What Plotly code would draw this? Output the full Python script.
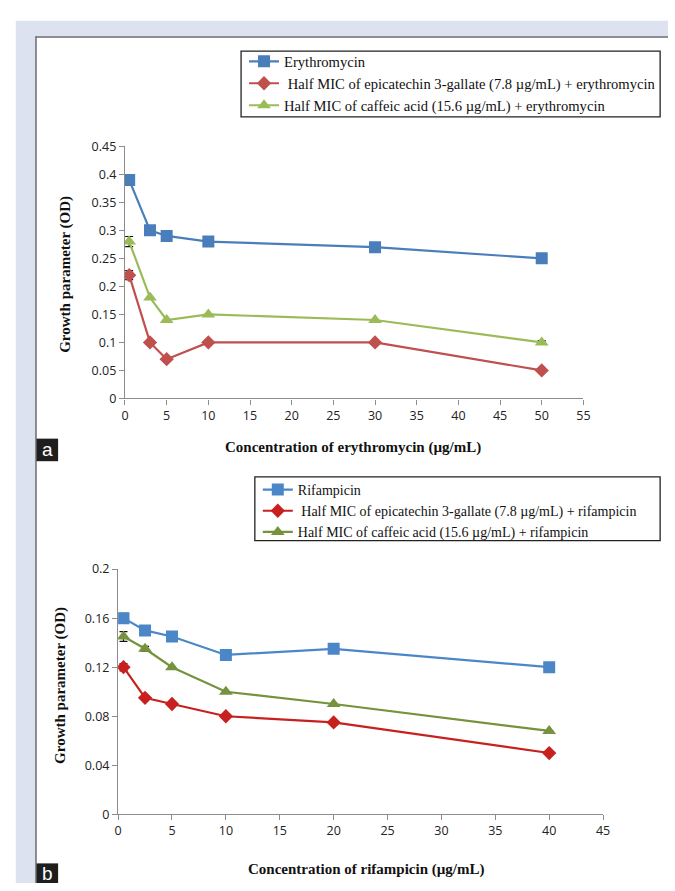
import plotly.graph_objects as go

W, H = 675, 891

# ---------------- data: panel a (erythromycin) ----------------
conc_a = [0.5, 3, 5, 10, 30, 50]
ery = [0.39, 0.30, 0.29, 0.28, 0.27, 0.25]
ery_ecg = [0.22, 0.10, 0.07, 0.10, 0.10, 0.05]
ery_caf = [0.28, 0.18, 0.14, 0.15, 0.14, 0.10]
err_ery = [0.004, None, None, None, None, None]
err_ery_ecg = [0.008, None, None, None, None, None]
err_ery_caf = [0.009, None, None, None, None, 0.003]

# ---------------- data: panel b (rifampicin) ----------------
conc_b = [0.5, 2.5, 5, 10, 20, 40]
rif = [0.16, 0.15, 0.145, 0.13, 0.135, 0.12]
rif_ecg = [0.12, 0.095, 0.09, 0.08, 0.075, 0.05]
rif_caf = [0.145, 0.135, 0.12, 0.10, 0.09, 0.068]
err_rif = [0.004, None, None, None, None, None]
err_rif_ecg = [0.003, None, None, None, None, None]
err_rif_caf = [0.004, 0.002, None, None, None, None]

names_a = ["Erythromycin",
           " Half MIC of epicatechin 3-gallate (7.8 µg/mL) + erythromycin",
           "Half MIC of caffeic acid (15.6 µg/mL) + erythromycin"]
names_b = ["Rifampicin",
           " Half MIC of epicatechin 3-gallate (7.8 µg/mL) + rifampicin",
           "Half MIC of caffeic acid (15.6 µg/mL) + rifampicin"]

xtitle_a = "Concentration of erythromycin (µg/mL)"
xtitle_b = "Concentration of rifampicin (µg/mL)"
ytitle = "Growth parameter (OD)"


def px(x):
    return x / W


def py(y):
    return 1 - y / H


fig = go.Figure()

colors_a = ["#4a7ebb", "#c0504d", "#9bbb59"]
colors_b = ["#4a86c8", "#c8201e", "#76923c"]
symbols = ["square", "diamond", "triangle-up"]
sizes = [12, 11, 12]

for i, (yv, ev) in enumerate([(ery, err_ery), (ery_ecg, err_ery_ecg), (ery_caf, err_ery_caf)]):
    fig.add_trace(go.Scatter(
        x=conc_a, y=yv, name=names_a[i], mode="lines+markers",
        line=dict(color=colors_a[i], width=2.2),
        marker=dict(symbol=symbols[i], size=sizes[i], color=colors_a[i]),
        error_y=dict(type="data", array=ev, visible=True, color="#111", thickness=1.2, width=4),
        xaxis="x", yaxis="y", legend="legend", legendgroup="a%d" % i,
    ))

for i, (yv, ev) in enumerate([(rif, err_rif), (rif_ecg, err_rif_ecg), (rif_caf, err_rif_caf)]):
    fig.add_trace(go.Scatter(
        x=conc_b, y=yv, name=names_b[i], mode="lines+markers",
        line=dict(color=colors_b[i], width=2.2),
        marker=dict(symbol=symbols[i], size=sizes[i], color=colors_b[i]),
        error_y=dict(type="data", array=ev, visible=True, color="#111", thickness=1.2, width=4),
        xaxis="x2", yaxis="y2", legend="legend2", legendgroup="b%d" % i,
    ))

tickfont = dict(family="Open Sans", size=12.5, color="#222")
axis_common = dict(showline=True, linecolor="#8c8c8c", linewidth=1.3, ticks="outside",
                   ticklen=5, tickcolor="#8c8c8c", tickwidth=1.3, showgrid=False,
                   zeroline=False, tickfont=tickfont, fixedrange=True)

legend_common = dict(bgcolor="rgba(0,0,0,0)", borderwidth=0, itemwidth=30,
                     traceorder="grouped", xanchor="left", yanchor="top")

fig.update_layout(
    width=W, height=H,
    margin=dict(l=0, r=0, t=0, b=0),
    paper_bgcolor="white", plot_bgcolor="white",
    xaxis=dict(domain=[px(123), px(589)], range=[0, 55], dtick=5, tick0=0,
               anchor="y", **axis_common),
    yaxis=dict(domain=[py(397), py(140)], range=[0, 0.45], dtick=0.05, tick0=0,
               anchor="x", **axis_common),
    xaxis2=dict(domain=[px(116), px(609)], range=[0, 45], dtick=5, tick0=0,
                anchor="y2", **axis_common),
    yaxis2=dict(domain=[py(821), py(571)], range=[0, 0.2], dtick=0.04, tick0=0,
                anchor="x2", **axis_common),
    legend=dict(x=px(244), y=py(37), tracegroupgap=0,
                font=dict(family="Liberation Serif", size=14.6, color="#111"), **legend_common),
    legend2=dict(x=px(258), y=py(474), tracegroupgap=0,
                 font=dict(family="Liberation Serif", size=14, color="#111"), **legend_common),
    showlegend=True,
)

shapes = [
    # lavender frame
    dict(type="rect", xref="paper", yref="paper", x0=px(12), x1=px(675), y0=py(891), y1=py(12),
         fillcolor="#dde2f0", line=dict(width=0), layer="below"),
    # white panel
    dict(type="rect", xref="paper", yref="paper", x0=px(32), x1=px(676), y0=py(892), y1=py(28),
         fillcolor="white", line=dict(width=0), layer="below"),
    dict(type="line", xref="paper", yref="paper", x0=px(32.5), x1=px(32.5), y0=py(891), y1=py(28),
         line=dict(color="#6a6a6a", width=1.5)),
    dict(type="line", xref="paper", yref="paper", x0=px(32), x1=px(675), y0=py(28.5), y1=py(28.5),
         line=dict(color="#6a6a6a", width=1.5)),
    # legend boxes
    dict(type="rect", xref="paper", yref="paper", x0=px(241), x1=px(667), y0=py(110), y1=py(43),
         line=dict(color="#222", width=1.3), fillcolor="rgba(0,0,0,0)"),
    dict(type="rect", xref="paper", yref="paper", x0=px(255), x1=px(667), y0=py(542), y1=py(477),
         line=dict(color="#222", width=1.3), fillcolor="rgba(0,0,0,0)"),
    # panel label boxes
    dict(type="rect", xref="paper", yref="paper", x0=px(33), x1=px(55), y0=py(461), y1=py(438),
         fillcolor="#1e1e1e", line=dict(width=0)),
    dict(type="rect", xref="paper", yref="paper", x0=px(33), x1=px(55), y0=py(891), y1=py(871),
         fillcolor="#1e1e1e", line=dict(width=0)),
]
fig.update_layout(shapes=shapes)

title_font = dict(family="Liberation Serif", size=15, color="#111")
ann = [
    dict(text="<b>%s</b>" % ytitle, x=px(63), y=py(270), textangle=-90, font=title_font),
    dict(text="<b>%s</b>" % ytitle, x=px(58), y=py(690), textangle=-90, font=title_font),
    dict(text="<b>%s</b>" % xtitle_a, x=px(355), y=py(447), font=title_font),
    dict(text="<b>%s</b>" % xtitle_b, x=px(368), y=py(877), font=title_font),
    dict(text="a", x=px(44), y=py(449.5), font=dict(family="Liberation Sans", size=19, color="white")),
    dict(text="b", x=px(44), y=py(881), font=dict(family="Liberation Sans", size=19, color="white")),
]
for a in ann:
    a.update(xref="paper", yref="paper", showarrow=False, xanchor="center", yanchor="middle")
fig.update_layout(annotations=ann)

fig.write_html(
    "out.html",
    config={"displayModeBar": False},
    post_script=("document.documentElement.style.margin='0';"
                 "document.body.style.margin='0';document.body.style.padding='0';"
                 "var d=document.getElementById('{plot_id}');"
                 "d.style.position='fixed';d.style.left='0px';d.style.top='0px';"),
)
